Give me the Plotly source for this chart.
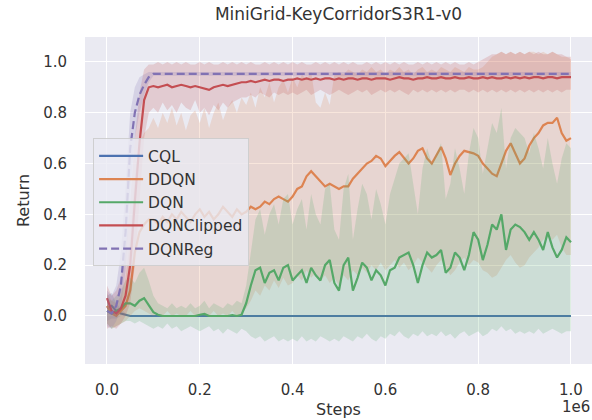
import plotly.graph_objects as go

# ---------------- data ----------------
steps = list(range(0, 1000001, 10000))  # 0 .. 1e6 every 1e4

series_names = ["CQL", "DDQN", "DQN", "DQNClipped", "DQNReg"]

cql_mean = [0.03, 0.04, 0.02, 0.01, 0.005] + [0.0] * 96
cql_lo = [-0.02, -0.01, -0.01, 0.0, 0.0] + [0.0] * 96
cql_hi = [0.08, 0.09, 0.05, 0.03, 0.01] + [0.004] * 96

ddqn_mean = [
    0.04, 0.01, 0.0, 0.02, 0.04, 0.10, 0.25, 0.33, 0.36, 0.38,
    0.38, 0.36, 0.39, 0.37, 0.40, 0.38, 0.41, 0.39, 0.37, 0.40,
    0.42, 0.39, 0.41, 0.38, 0.40, 0.43, 0.41, 0.39, 0.42, 0.40,
    0.41, 0.43, 0.42, 0.43, 0.45, 0.44, 0.46, 0.47, 0.46, 0.45,
    0.47, 0.50, 0.51, 0.55, 0.57, 0.55, 0.53, 0.51, 0.52, 0.51,
    0.50, 0.51, 0.51, 0.54, 0.56, 0.58, 0.60, 0.61, 0.63, 0.62,
    0.59, 0.61, 0.63, 0.645, 0.62, 0.60, 0.62, 0.65, 0.66, 0.62,
    0.60, 0.63, 0.665, 0.62, 0.555, 0.60, 0.63, 0.65, 0.645, 0.64,
    0.63, 0.60, 0.58, 0.56, 0.55, 0.60, 0.65, 0.68, 0.64, 0.60,
    0.62, 0.67, 0.70, 0.72, 0.75, 0.76, 0.76, 0.78, 0.72, 0.69,
    0.70,
]
ddqn_lo = [
    -0.03, -0.05, -0.04, -0.03, -0.02, 0.0, 0.02, 0.03, 0.02, 0.01,
    0.0, 0.01, 0.0, 0.02, 0.0, 0.01, 0.0, 0.0, 0.02, 0.0,
    0.01, 0.0, 0.0, 0.02, 0.0, 0.01, 0.0, 0.02, 0.0, 0.01,
    0.03, 0.06, 0.10, 0.08, 0.12, 0.10, 0.14, 0.11, 0.15, 0.12,
    0.13, 0.16, 0.14, 0.18, 0.15, 0.17, 0.14, 0.16, 0.13, 0.15,
    0.12, 0.16, 0.14, 0.18, 0.16, 0.19, 0.17, 0.20, 0.18, 0.21,
    0.18, 0.20, 0.22, 0.19, 0.21, 0.18, 0.20, 0.23, 0.21, 0.19,
    0.17, 0.20, 0.22, 0.19, 0.16, 0.18, 0.21, 0.23, 0.20, 0.22,
    0.21, 0.18, 0.17, 0.15, 0.16, 0.19, 0.22, 0.24, 0.21, 0.19,
    0.20, 0.23, 0.25, 0.27, 0.30, 0.31, 0.30, 0.32, 0.27, 0.24,
    0.24,
]
ddqn_hi = [
    0.09, 0.06, 0.05, 0.08, 0.15, 0.30, 0.55, 0.68, 0.72, 0.74,
    0.78, 0.74, 0.80, 0.76, 0.82, 0.75, 0.80, 0.73, 0.79, 0.81,
    0.76, 0.82, 0.74, 0.80, 0.84, 0.77, 0.82, 0.85, 0.80, 0.86,
    0.83, 0.88, 0.82, 0.90, 0.86, 0.92, 0.84, 0.90, 0.93, 0.88,
    0.94, 0.90, 0.95, 0.93, 0.96, 0.84, 0.82, 0.88, 0.83, 0.95,
    0.96, 0.95, 0.97, 0.96, 0.95, 0.97, 0.96, 0.98, 0.96, 0.97,
    0.95, 0.97, 0.96, 0.98, 0.96, 0.97, 0.95, 0.97, 0.98, 0.96,
    0.97, 0.96, 0.98, 0.97, 0.96, 0.98, 0.97, 0.96, 0.98, 0.97,
    0.97, 0.98, 1.00, 1.02, 1.03, 1.04, 1.03, 1.04, 1.03, 1.04,
    1.03, 1.04, 1.04, 1.03, 1.04, 1.03, 1.04, 1.03, 1.02, 1.02,
    1.01,
]

dqn_mean = [
    0.02, 0.01, 0.02, 0.03, 0.05, 0.05, 0.04, 0.06, 0.07, 0.04,
    0.015, 0.005, 0.0, 0.0, 0.0, 0.002, 0.0, 0.0, 0.0, 0.0,
    0.005, 0.008, 0.0, 0.0, 0.0, 0.0, 0.0, 0.003, 0.0, 0.005,
    0.05, 0.12, 0.18, 0.19, 0.13, 0.17, 0.18, 0.14, 0.19, 0.20,
    0.14, 0.16, 0.18, 0.13, 0.19, 0.16, 0.14, 0.20, 0.22, 0.13,
    0.10, 0.20, 0.23, 0.10, 0.15, 0.21, 0.19, 0.14, 0.18, 0.16,
    0.12, 0.18, 0.19, 0.23, 0.24, 0.25, 0.20, 0.13, 0.20, 0.25,
    0.23, 0.24, 0.26, 0.17, 0.19, 0.25, 0.23, 0.18, 0.24, 0.33,
    0.30, 0.22, 0.28, 0.36, 0.34, 0.40, 0.26, 0.34, 0.36, 0.35,
    0.33, 0.30, 0.33, 0.30, 0.26, 0.33, 0.27, 0.23, 0.26, 0.31,
    0.29,
]
dqn_lo = [
    -0.03, -0.05, -0.04, -0.03, -0.02, -0.02, -0.03, -0.02, -0.03, -0.04,
    -0.05, -0.04, -0.05, -0.03, -0.05, -0.04, -0.06, -0.05, -0.04, -0.05,
    -0.06, -0.05, -0.04, -0.06, -0.05, -0.07, -0.05, -0.06, -0.07, -0.05,
    -0.06, -0.08, -0.09, -0.08, -0.10, -0.09, -0.08, -0.10, -0.09, -0.10,
    -0.09, -0.10, -0.08, -0.10, -0.09, -0.10, -0.08, -0.09, -0.10, -0.09,
    -0.10, -0.08, -0.09, -0.10, -0.08, -0.09, -0.07, -0.09, -0.10, -0.08,
    -0.09, -0.07, -0.08, -0.06, -0.08, -0.09, -0.07, -0.08, -0.06, -0.08,
    -0.07, -0.08, -0.06, -0.08, -0.07, -0.09, -0.07, -0.06, -0.08, -0.07,
    -0.06, -0.08, -0.07, -0.05, -0.06, -0.04, -0.06, -0.05, -0.07, -0.06,
    -0.07, -0.06, -0.07, -0.05, -0.07, -0.06, -0.05, -0.06, -0.07, -0.06,
    -0.06,
]
dqn_hi = [
    0.07, 0.06, 0.08, 0.10, 0.14, 0.15, 0.13, 0.17, 0.19, 0.14,
    0.08, 0.05, 0.04, 0.03, 0.05, 0.03, 0.04, 0.03, 0.05, 0.03,
    0.04, 0.06, 0.03, 0.05, 0.04, 0.03, 0.05, 0.04, 0.06, 0.05,
    0.12, 0.26, 0.38, 0.42, 0.32, 0.40, 0.44, 0.36, 0.46, 0.48,
    0.36, 0.42, 0.46, 0.34, 0.48, 0.40, 0.36, 0.50, 0.52, 0.34,
    0.30, 0.50, 0.56, 0.30, 0.42, 0.52, 0.48, 0.38, 0.50, 0.44,
    0.36, 0.48, 0.54, 0.60, 0.62, 0.64, 0.52, 0.40, 0.58, 0.66,
    0.60, 0.64, 0.68, 0.46, 0.52, 0.66, 0.58, 0.48, 0.64, 0.74,
    0.70, 0.56, 0.66, 0.76, 0.72, 0.82, 0.58, 0.70, 0.74, 0.72,
    0.70, 0.64, 0.72, 0.66, 0.58, 0.70, 0.60, 0.52, 0.62, 0.68,
    0.66,
]

clip_mean = [
    0.07, 0.02, 0.01, 0.03, 0.08, 0.20, 0.45, 0.68, 0.85, 0.90,
    0.905, 0.90, 0.905, 0.91, 0.90, 0.905, 0.91, 0.905, 0.90, 0.905,
    0.90, 0.895, 0.89, 0.90, 0.905, 0.91, 0.905, 0.91, 0.915, 0.92,
    0.92, 0.925, 0.92, 0.925, 0.93, 0.925, 0.93, 0.93, 0.925, 0.93,
    0.93, 0.935, 0.93, 0.935, 0.93, 0.935, 0.93, 0.935, 0.935, 0.93,
    0.935, 0.93, 0.935, 0.935, 0.93, 0.935, 0.935, 0.93, 0.935, 0.935,
    0.935, 0.93, 0.935, 0.94, 0.935, 0.935, 0.93, 0.935, 0.935, 0.94,
    0.935, 0.935, 0.94, 0.935, 0.935, 0.94, 0.935, 0.935, 0.94, 0.935,
    0.935, 0.94, 0.935, 0.94, 0.935, 0.935, 0.94, 0.935, 0.94, 0.935,
    0.94, 0.935, 0.94, 0.94, 0.935, 0.94, 0.94, 0.935, 0.94, 0.94,
    0.94,
]
clip_lo = [
    -0.05, -0.04, -0.05, -0.03, 0.00, 0.05, 0.20, 0.45, 0.70, 0.80,
    0.82, 0.80, 0.84, 0.81, 0.83, 0.80, 0.84, 0.82, 0.81, 0.85,
    0.80, 0.82, 0.79, 0.83, 0.81, 0.84, 0.82, 0.84, 0.85, 0.86,
    0.86, 0.87, 0.86, 0.88, 0.87, 0.86, 0.88, 0.87, 0.88, 0.87,
    0.88, 0.87, 0.88, 0.89, 0.87, 0.88, 0.89, 0.88, 0.87, 0.88,
    0.89, 0.88, 0.87, 0.88, 0.89, 0.88, 0.89, 0.87, 0.88, 0.89,
    0.88, 0.89, 0.88, 0.89, 0.88, 0.87, 0.89, 0.88, 0.89, 0.88,
    0.89, 0.88, 0.89, 0.88, 0.89, 0.88, 0.89, 0.89, 0.88, 0.89,
    0.88, 0.89, 0.88, 0.89, 0.88, 0.89, 0.88, 0.89, 0.88, 0.89,
    0.88, 0.89, 0.88, 0.89, 0.88, 0.89, 0.88, 0.89, 0.88, 0.89,
    0.89,
]
clip_hi = [
    0.12, 0.08, 0.10, 0.15, 0.25, 0.45, 0.70, 0.88, 0.97, 0.99,
    0.99, 1.00, 0.99, 1.00, 0.99, 1.00, 0.99, 1.00, 0.99, 0.99,
    1.00, 0.99, 1.00, 0.99, 0.99, 1.00, 0.99, 1.00, 0.99, 1.00,
    0.99, 1.00, 0.99, 0.99, 1.00, 0.99, 1.00, 0.99, 1.00, 0.99,
    1.00, 0.99, 1.00, 0.99, 0.99, 1.00, 0.99, 1.00, 0.99, 1.00,
    0.99, 1.00, 0.99, 1.00, 0.99, 0.99, 1.00, 0.99, 1.00, 0.99,
    1.00, 0.99, 1.00, 0.99, 1.00, 0.99, 0.99, 1.00, 0.99, 1.00,
    0.99, 1.00, 0.99, 1.00, 0.99, 1.00, 0.99, 0.99, 1.00, 0.99,
    1.00, 1.01, 1.02, 1.03, 1.03, 1.04, 1.03, 1.04, 1.03, 1.04,
    1.03, 1.04, 1.03, 1.04, 1.03, 1.03, 1.04, 1.03, 1.03, 1.02,
    1.02,
]

reg_mean = [0.02, 0.01, 0.04, 0.12, 0.33, 0.66, 0.80, 0.87, 0.91, 0.94] + [0.953] * 91
reg_lo = [-0.04, -0.05, -0.02, 0.03, 0.18, 0.50, 0.70, 0.80, 0.87, 0.92] + [0.945] * 91
reg_hi = [0.10, 0.08, 0.12, 0.25, 0.50, 0.80, 0.90, 0.94, 0.95, 0.96] + [0.96] * 91

x_tick_vals = [0, 200000, 400000, 600000, 800000, 1000000]
x_tick_text = ["0.0", "0.2", "0.4", "0.6", "0.8", "1.0"]
y_tick_vals = [0.0, 0.2, 0.4, 0.6, 0.8, 1.0]
y_tick_text = ["0.0", "0.2", "0.4", "0.6", "0.8", "1.0"]

# ---------------- styling ----------------
colors = {
    "CQL": (76, 114, 176),
    "DDQN": (221, 132, 82),
    "DQN": (85, 168, 104),
    "DQNClipped": (196, 78, 82),
    "DQNReg": (129, 114, 179),
}
dashes = {"CQL": "solid", "DDQN": "solid", "DQN": "solid",
          "DQNClipped": "solid", "DQNReg": "8px,4px"}

data = {
    "CQL": (cql_mean, cql_lo, cql_hi),
    "DDQN": (ddqn_mean, ddqn_lo, ddqn_hi),
    "DQN": (dqn_mean, dqn_lo, dqn_hi),
    "DQNClipped": (clip_mean, clip_lo, clip_hi),
    "DQNReg": (reg_mean, reg_lo, reg_hi),
}

fig = go.Figure()
for name in series_names:
    mean, lo, hi = data[name]
    r, g, b = colors[name]
    fig.add_trace(go.Scatter(x=steps, y=lo, mode="lines", line=dict(width=0),
                             showlegend=False, hoverinfo="skip"))
    fig.add_trace(go.Scatter(x=steps, y=hi, mode="lines", line=dict(width=0),
                             fill="tonexty", fillcolor=f"rgba({r},{g},{b},0.2)",
                             showlegend=False, hoverinfo="skip"))
    fig.add_trace(go.Scatter(x=steps, y=mean, mode="lines", name=name,
                             line=dict(color=f"rgb({r},{g},{b})", width=2.2,
                                       dash=dashes[name])))

text_color = "#333333"
fig.update_layout(
    width=592, height=420,
    margin=dict(l=85, r=0, t=37, b=56),
    plot_bgcolor="#EAEAF2", paper_bgcolor="white",
    font=dict(family="DejaVu Sans", size=15, color=text_color),
    title=dict(text="MiniGrid-KeyCorridorS3R1-v0", x=0.5, xref="paper",
               y=0.966, yref="container", xanchor="center", yanchor="middle",
               font=dict(size=17, color=text_color)),
    legend=dict(x=0.016, y=0.69, xanchor="left", yanchor="top",
                traceorder="normal",
                bgcolor="rgba(234,234,242,0.8)", bordercolor="rgba(204,204,204,0.9)",
                borderwidth=1, font=dict(size=15.5, color=text_color),
                itemwidth=44, tracegroupgap=0),
    showlegend=True,
)
fig.update_xaxes(
    range=[-47400, 1045300], tickvals=x_tick_vals, ticktext=x_tick_text,
    showgrid=True, gridcolor="white", gridwidth=1.3, zeroline=False,
    showline=False, ticks="outside", ticklen=12, tickcolor="rgba(0,0,0,0)",
    title=dict(text="Steps", standoff=5, font=dict(size=16, color=text_color)),
)
fig.update_yaxes(
    range=[-0.189, 1.098], tickvals=y_tick_vals, ticktext=y_tick_text,
    showgrid=True, gridcolor="white", gridwidth=1.3, zeroline=False,
    showline=False, ticks="outside", ticklen=14, tickcolor="rgba(0,0,0,0)",
    title=dict(text="Return", standoff=9, font=dict(size=16, color=text_color)),
)
fig.add_annotation(text="1e6", x=1.0, xref="paper", xanchor="right",
                   y=-0.1315, yref="paper", yanchor="middle",
                   showarrow=False, font=dict(size=15, color=text_color))

fig.write_html("out.html")
